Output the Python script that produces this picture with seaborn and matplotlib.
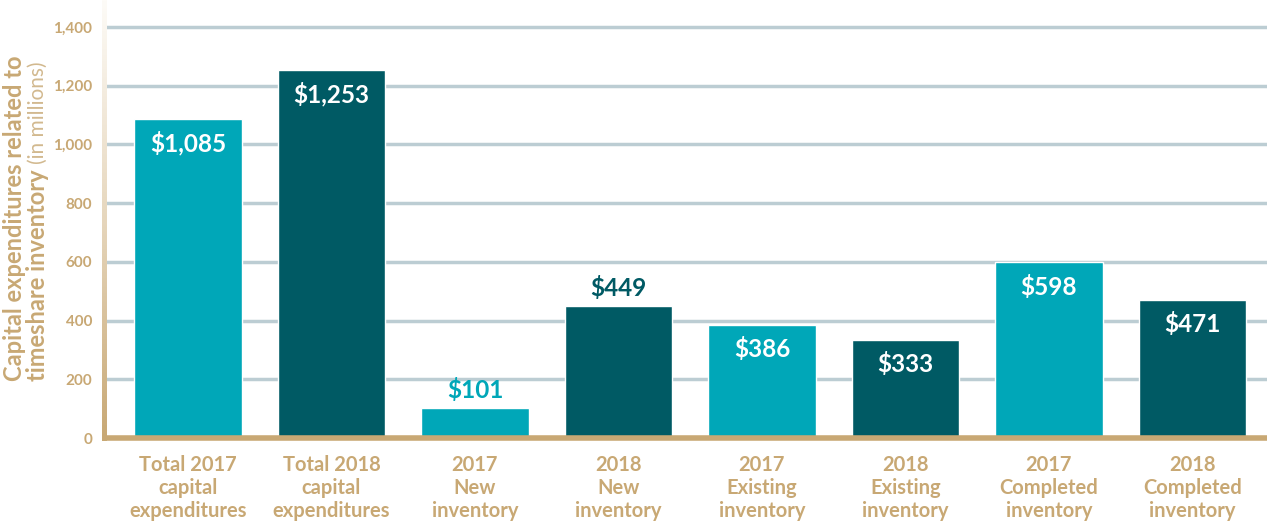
import numpy as np
import pandas as pd
import seaborn as sns
import matplotlib.pyplot as plt
from matplotlib.colors import LinearSegmentedColormap

# data (in millions)
categories = ["Total 2017\ncapital\nexpenditures", "Total 2018\ncapital\nexpenditures",
              "2017\nNew\ninventory", "2018\nNew\ninventory",
              "2017\nExisting\ninventory", "2018\nExisting\ninventory",
              "2017\nCompleted\ninventory", "2018\nCompleted\ninventory"]
values = [1085, 1253, 101, 449, 386, 333, 598, 471]
value_labels = ["$1,085", "$1,253", "$101", "$449", "$386", "$333", "$598", "$471"]
label_outside = [False, False, True, True, False, False, False, False]
yticks = [0, 200, 400, 600, 800, 1000, 1200, 1400]

light = '#00a7b8'
dark = '#005a64'
tan = '#c8a874'
grid_col = '#bccdd3'

df = pd.DataFrame({"cat": categories, "val": values})
colors = [light if i % 2 == 0 else dark for i in range(len(categories))]

sns.set_style("white")
plt.rcParams['font.family'] = ['Lato', 'DejaVu Sans']

W, H = 1267, 525
fig = plt.figure(figsize=(W / 100, H / 100), dpi=100)
ax_l, ax_b = 105 / W, (H - 438) / H
ax = fig.add_axes([ax_l, ax_b, 1 - ax_l, 1 - ax_b])

sns.barplot(data=df, x="cat", y="val", hue="cat", palette=colors, legend=False,
            width=0.75, saturation=1, ax=ax, zorder=3)

ax.set_xlim(-0.578, 7.52)
ax.set_ylim(0, 1492)
ax.set_yticks(yticks)
ax.set_yticklabels([f"{t:,}" for t in yticks])
ax.yaxis.grid(True, color=grid_col, lw=2.5, zorder=0)
ax.set_axisbelow(True)

for s in ['top', 'right', 'left']:
    ax.spines[s].set_visible(False)
ax.spines['bottom'].set_color(tan)
ax.spines['bottom'].set_linewidth(4)
ax.spines['bottom'].set_zorder(5)

ax.tick_params(axis='both', length=0, colors=tan)
ax.tick_params(axis='y', pad=9)
ax.tick_params(axis='x', pad=12)
for t in ax.get_yticklabels():
    t.set_fontsize(11)
    t.set_fontweight('bold')
for t in ax.get_xticklabels():
    t.set_fontsize(14.5)
    t.set_fontweight('bold')
    t.set_linespacing(1.2)
ax.set_xlabel("")
ax.set_ylabel("")

# value labels
for i, (v, lab, out) in enumerate(zip(values, value_labels, label_outside)):
    if out:
        ax.text(i, v + 62, lab, ha='center', va='center', fontsize=17.5,
                fontweight='bold', color=colors[i], zorder=6)
    else:
        ax.text(i, v - 82, lab, ha='center', va='center', fontsize=17.5,
                fontweight='bold', color='white', zorder=6)

# left axis line fading upward
cmap = LinearSegmentedColormap.from_list("fade", [tan, '#e6d6bc', '#fdfbf7'])
sp = fig.add_axes([102 / W, (H - 441) / H, 5 / W, 441 / H])
sp.imshow(np.linspace(0, 1, 200).reshape(-1, 1), cmap=cmap, aspect='auto',
          origin='lower')
sp.axis('off')

# y axis title, two lines with mixed weights
fig.text(15 / W, (H - 381) / H, "Capital expenditures related to", rotation=90,
         ha='center', va='bottom', fontsize=17, fontweight='bold', color=tan)
t2 = fig.text(38 / W, (H - 381) / H, "timeshare inventory", rotation=90,
              ha='center', va='bottom', fontsize=17, fontweight='bold', color=tan)
fig.canvas.draw()
bb = t2.get_window_extent()
fig.text(38 / W, (bb.y1 + 5) / H, "(in millions)", rotation=90,
         ha='center', va='bottom', fontsize=15, color='#d2b98f')

fig.savefig("out.png", dpi=100)
